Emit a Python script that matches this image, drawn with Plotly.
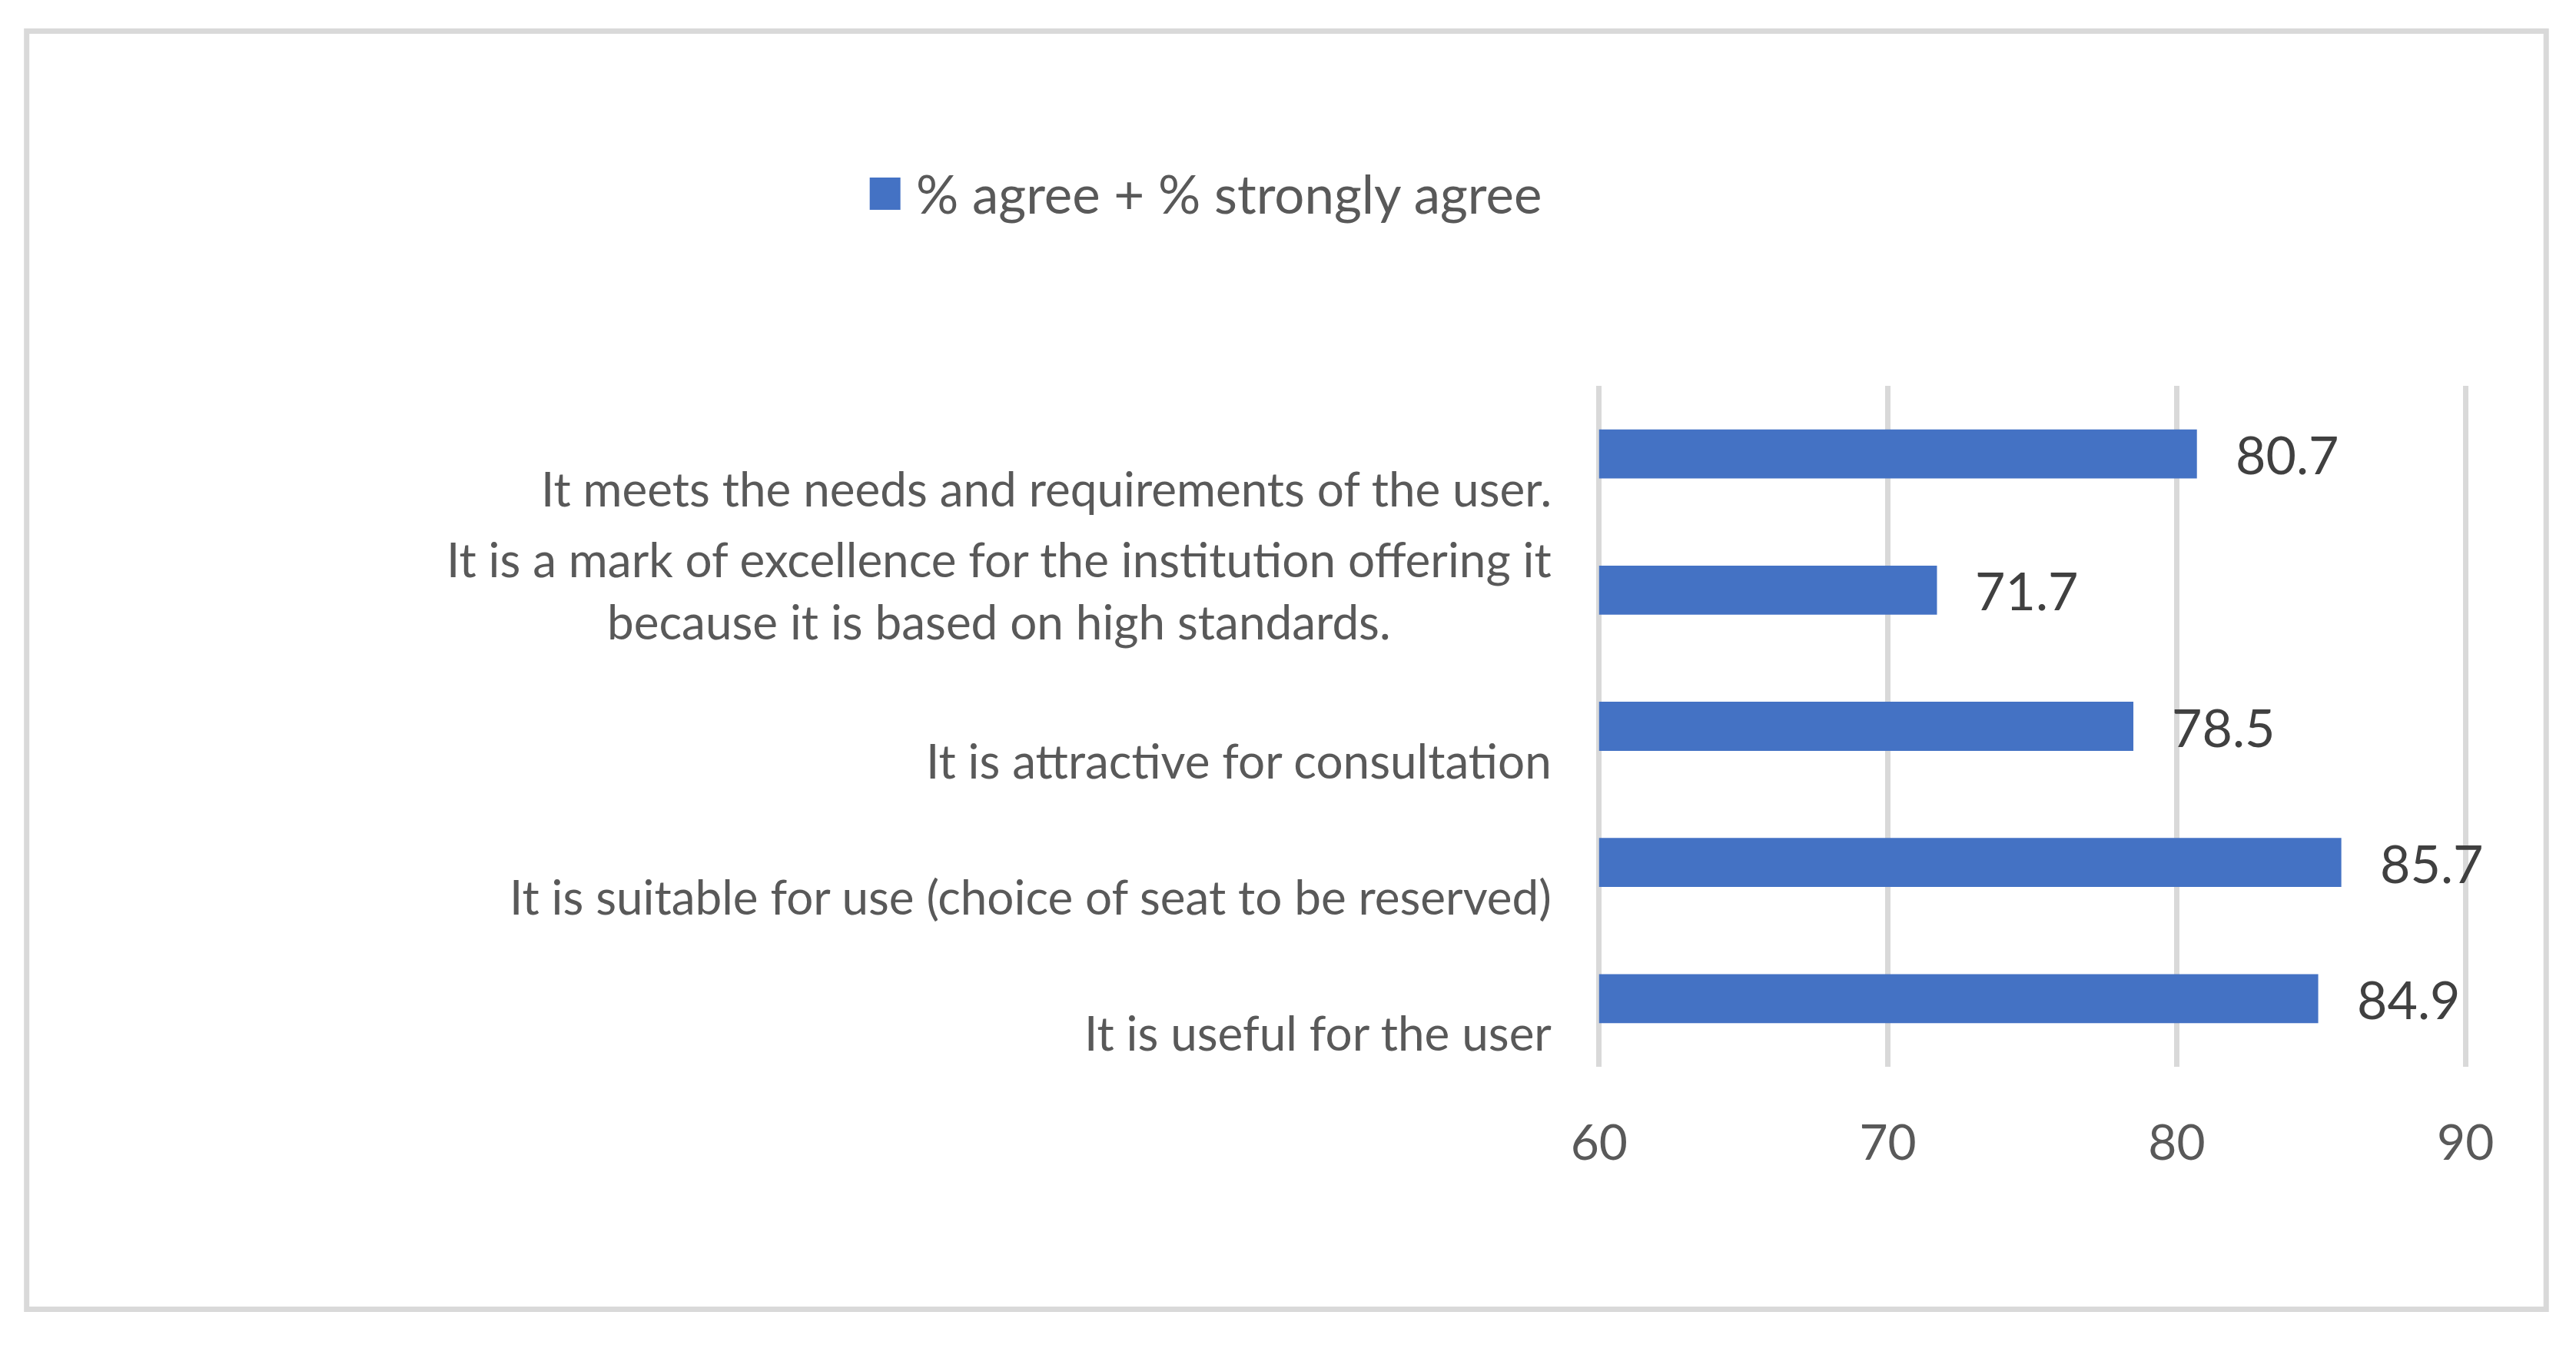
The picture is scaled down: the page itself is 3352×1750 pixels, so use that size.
import plotly.graph_objects as go

# categories listed top to bottom as in the chart
categories = [
    "It meets the needs and requirements of the user.",
    "It is a mark of excellence for the institution offering it<br>because it is based on high standards.",
    "It is attractive for consultation",
    "It is suitable for use (choice of seat to be reserved)",
    "It is useful for the user",
]
values = [80.7, 71.7, 78.5, 85.7, 84.9]
series_name = "% agree + % strongly agree"
x_ticks = [60, 70, 80, 90]
x_min, x_max = 60, 90

# page body has an 8px margin, so work in page pixels and subtract it
OFF = 8
W, H = 3352 - OFF, 1750 - OFF
X60, X90 = 2080.5 - OFF, 3208.5 - OFF   # pixel x of 60 and 90
T, B = 502 - OFF, 1388 - OFF
pad = 0.1  # small pad so the end gridlines are still drawn
k = (X90 - X60) / (x_max - x_min)
L, R = X60 - pad * k, X90 + pad * k

def px(x):
    return (x - OFF - L) / (R - L)

def py(y):
    return (B - (y - OFF)) / (B - T)

FONT = "Lato"
BLUE = "#4472C4"
GREY = "#595959"

fig = go.Figure()
fig.add_trace(go.Bar(
    x=[v - x_min for v in values], base=x_min, y=categories, orientation="h",
    marker=dict(color=BLUE, line=dict(width=0)),
    width=0.36, name=series_name, showlegend=False,
))

annotations = []
# data labels
for c, v in zip(categories, values):
    annotations.append(dict(
        x=v, y=c, xref="x", yref="y", text=f"{v:.1f}", showarrow=False,
        xanchor="left", yanchor="middle", xshift=48,
        font=dict(family=FONT, size=68, color="#404040"),
    ))
# category labels
for c in categories:
    annotations.append(dict(
        x=px(2021), y=c, xref="paper", yref="y", text=c, showarrow=False,
        xanchor="right", yanchor="middle", align="center",
        yshift=0 if "<br>" in c else -44,
        font=dict(family=FONT, size=62, color=GREY),
    ))
# legend text
annotations.append(dict(
    x=px(1189), y=py(252), xref="paper", yref="paper", text=series_name,
    showarrow=False, xanchor="left", yanchor="middle",
    font=dict(family=FONT, size=69, color=GREY),
))

shapes = [
    # chart border
    dict(type="rect", xref="paper", yref="paper",
         x0=px(33.5), x1=px(3313.5), y0=py(1703.5), y1=py(40.5),
         line=dict(color="#D9D9D9", width=7), fillcolor="rgba(0,0,0,0)"),
    # legend key
    dict(type="rect", xref="paper", yref="paper",
         x0=px(1131), x1=px(1171), y0=py(273), y1=py(231),
         line=dict(width=0), fillcolor=BLUE),
]

fig.update_layout(
    width=W, height=H,
    margin=dict(l=L, r=W - R, t=T, b=H - B, pad=0),
    paper_bgcolor="white", plot_bgcolor="white",
    annotations=annotations, shapes=shapes,
    font=dict(family=FONT, color=GREY),
)
fig.update_xaxes(
    range=[x_min - pad, x_max + pad], tickvals=x_ticks, showgrid=True,
    gridcolor="#D9D9D9", gridwidth=7, zeroline=False, showline=False,
    tickfont=dict(family=FONT, size=64, color=GREY), ticklabelstandoff=56,
)
fig.update_yaxes(
    autorange="reversed", showticklabels=False, showgrid=False,
    zeroline=False, showline=False,
)

fig.write_html("out.html")
